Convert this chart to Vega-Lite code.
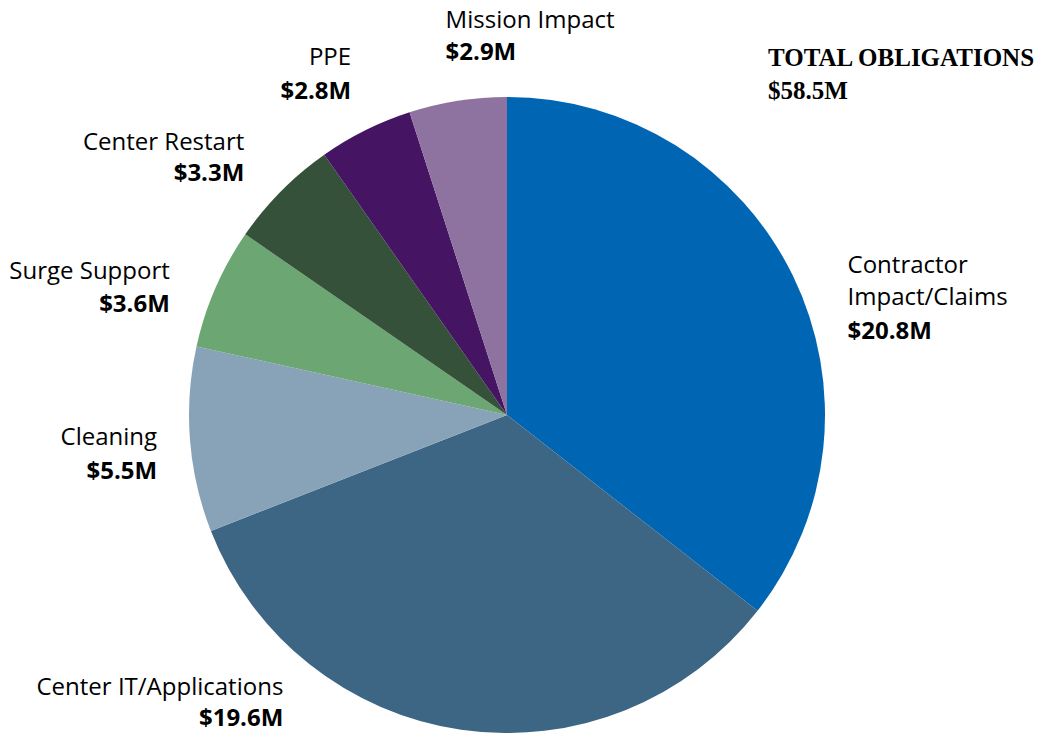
{
  "$schema": "https://vega.github.io/schema/vega-lite/v6.json",
  "width": 1014,
  "height": 636,
  "autosize": {"type": "none"},
  "padding": {"left": 0, "top": 97, "right": 23, "bottom": 0},
  "background": "white",
  "config": {"view": {"stroke": null}, "text": {"font": "Open Sans", "fontSize": 24, "color": "black"}},
  "title": {
    "text": ["TOTAL OBLIGATIONS", "$58.5M"],
    "anchor": "start",
    "align": "left",
    "dx": 768,
    "offset": -95,
    "font": "Liberation Serif",
    "fontSize": 25,
    "fontWeight": "bold",
    "color": "black",
    "lineHeight": 33
  },
  "data": {
    "values": [
      {"order": 1, "name": "Contractor Impact/Claims", "label": "Contractor\nImpact/Claims", "value": 20.8, "amount": "$20.8M"},
      {"order": 2, "name": "Center IT/Applications", "label": "Center IT/Applications", "value": 19.6, "amount": "$19.6M"},
      {"order": 3, "name": "Cleaning", "label": "Cleaning", "value": 5.5, "amount": "$5.5M"},
      {"order": 4, "name": "Surge Support", "label": "Surge Support", "value": 3.6, "amount": "$3.6M"},
      {"order": 5, "name": "Center Restart", "label": "Center Restart", "value": 3.3, "amount": "$3.3M"},
      {"order": 6, "name": "PPE", "label": "PPE", "value": 2.8, "amount": "$2.8M"},
      {"order": 7, "name": "Mission Impact", "label": "Mission Impact", "value": 2.9, "amount": "$2.9M"}
    ]
  },
  "encoding": {
    "theta": {"field": "value", "type": "quantitative", "stack": true},
    "order": {"field": "order", "type": "quantitative"}
  },
  "layer": [
    {
      "mark": {"type": "arc", "radius": 318},
      "encoding": {
        "color": {
          "field": "name",
          "type": "nominal",
          "legend": null,
          "scale": {
            "domain": ["Contractor Impact/Claims", "Center IT/Applications", "Cleaning", "Surge Support", "Center Restart", "PPE", "Mission Impact"],
            "range": ["#0066B3", "#3D6685", "#88A3B8", "#6BA673", "#36513A", "#451563", "#8E72A0"]
          }
        }
      }
    },
    {
      "mark": {"type": "text", "radius": 370, "align": "right", "baseline": "bottom", "dx": 19, "dy": 6},
      "encoding": {"text": {"condition": {"test": "datum.name === 'Cleaning'", "field": "label"}, "value": ""}}
    },
    {
      "mark": {"type": "text", "radius": 370, "align": "right", "baseline": "top", "dx": 19, "dy": 16, "fontWeight": "bold"},
      "encoding": {"text": {"condition": {"test": "datum.name === 'Cleaning'", "field": "amount"}, "value": ""}}
    },
    {
      "mark": {"type": "text", "radius": 370, "align": "right", "baseline": "bottom", "dx": 2, "dy": 17},
      "encoding": {"text": {"condition": {"test": "datum.name === 'Surge Support'", "field": "label"}, "value": ""}}
    },
    {
      "mark": {"type": "text", "radius": 370, "align": "right", "baseline": "top", "dx": 2, "dy": 26, "fontWeight": "bold"},
      "encoding": {"text": {"condition": {"test": "datum.name === 'Surge Support'", "field": "amount"}, "value": ""}}
    },
    {
      "mark": {"type": "text", "radius": 370, "align": "right", "baseline": "bottom", "dx": 0, "dy": 1},
      "encoding": {"text": {"condition": {"test": "datum.name === 'Center Restart'", "field": "label"}, "value": ""}}
    },
    {
      "mark": {"type": "text", "radius": 370, "align": "right", "baseline": "top", "dx": 0, "dy": 8, "fontWeight": "bold"},
      "encoding": {"text": {"condition": {"test": "datum.name === 'Center Restart'", "field": "amount"}, "value": ""}}
    },
    {
      "mark": {"type": "text", "radius": 370, "align": "right", "baseline": "bottom", "dx": 9, "dy": -14},
      "encoding": {"text": {"condition": {"test": "datum.name === 'PPE'", "field": "label"}, "value": ""}}
    },
    {
      "mark": {"type": "text", "radius": 370, "align": "right", "baseline": "top", "dx": 9, "dy": -4, "fontWeight": "bold"},
      "encoding": {"text": {"condition": {"test": "datum.name === 'PPE'", "field": "amount"}, "value": ""}}
    },
    {
      "mark": {"type": "text", "radius": 370, "align": "left", "baseline": "bottom", "dx": -4, "dy": -16},
      "encoding": {"text": {"condition": {"test": "datum.name === 'Mission Impact'", "field": "label"}, "value": ""}}
    },
    {
      "mark": {"type": "text", "radius": 370, "align": "left", "baseline": "top", "dx": -4, "dy": -8, "fontWeight": "bold"},
      "encoding": {"text": {"condition": {"test": "datum.name === 'Mission Impact'", "field": "amount"}, "value": ""}}
    },
    {
      "mark": {"type": "text", "radius": 370, "align": "left", "baseline": "bottom", "dx": 8, "dy": 25, "lineBreak": "\n", "lineHeight": 32},
      "encoding": {"text": {"condition": {"test": "datum.name === 'Contractor Impact/Claims'", "field": "label"}, "value": ""}}
    },
    {
      "mark": {"type": "text", "radius": 370, "align": "left", "baseline": "top", "dx": 8, "dy": 67, "fontWeight": "bold"},
      "encoding": {"text": {"condition": {"test": "datum.name === 'Contractor Impact/Claims'", "field": "amount"}, "value": ""}}
    },
    {
      "mark": {"type": "text", "radius": 330, "align": "right", "baseline": "bottom", "dx": -176, "dy": -42},
      "encoding": {"text": {"condition": {"test": "datum.name === 'Center IT/Applications'", "field": "label"}, "value": ""}}
    },
    {
      "mark": {"type": "text", "radius": 330, "align": "right", "baseline": "top", "dx": -176, "dy": -35, "fontWeight": "bold"},
      "encoding": {"text": {"condition": {"test": "datum.name === 'Center IT/Applications'", "field": "amount"}, "value": ""}}
    }
  ]
}
